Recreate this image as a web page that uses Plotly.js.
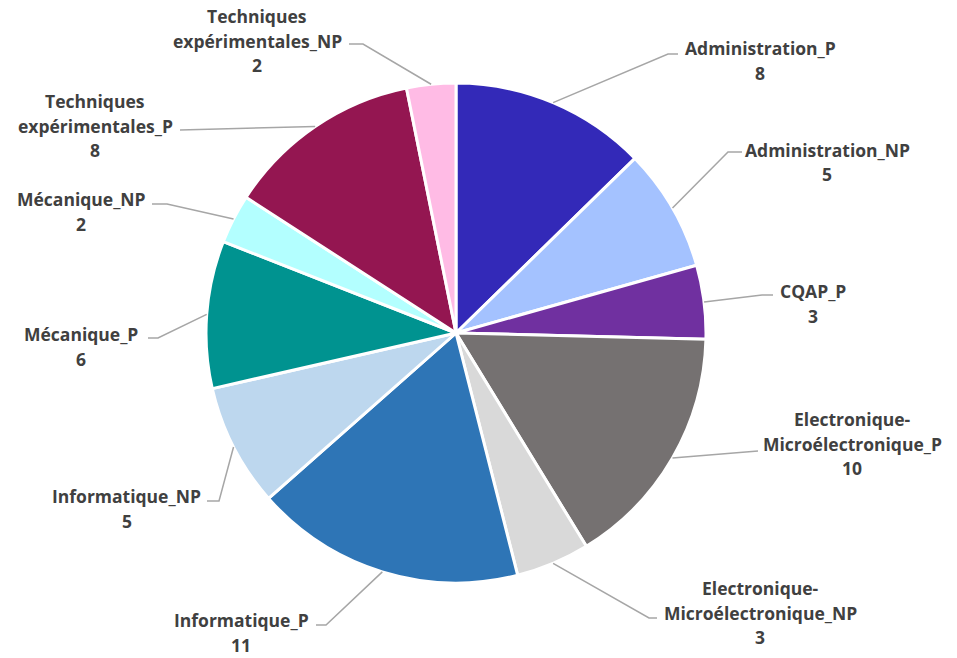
<!DOCTYPE html>
<html>
<head>
<meta charset="utf-8">
<script src="https://cdn.plot.ly/plotly-3.0.1.min.js"></script>
<style>html,body{margin:0;padding:0;background:#fff;}#chart{width:957px;height:658px;}</style>
</head>
<body>
<div id="chart"></div>
<script>
// ---- data ----
const categories = [
  "Administration_P", "Administration_NP", "CQAP_P",
  "Electronique-<br>Microélectronique_P", "Electronique-<br>Microélectronique_NP",
  "Informatique_P", "Informatique_NP", "Mécanique_P", "Mécanique_NP",
  "Techniques<br>expérimentales_P", "Techniques<br>expérimentales_NP"
];
const values = [8, 5, 3, 10, 3, 11, 5, 6, 2, 8, 2];
const colors = ["#3329B8", "#A4C2FF", "#7030A0", "#757171", "#D9D9D9",
                "#2E75B6", "#BDD7EE", "#009390", "#B3FFFF", "#941651", "#FFBBE5"];

// ---- layout (label placement, pixels) ----
const W = 957, H = 658;
const cx = 456, cy = 333, R = 250;
// [elbow x, elbow y, line end x, text center x, first line y]
const labelLayout = [
  [668, 54, 678, 760, 48],
  [728, 152, 742, 827, 150],
  [762, 295, 773, 813, 291],
  [758, 451, 758, 852, 419],
  [649, 618, 657, 760, 588],
  [326, 625, 316, 241, 620],
  [219, 501, 207, 127, 496],
  [158, 338, 148, 81, 334],
  [167, 204, 152, 81, 199],
  [180, 130, 180, 95, 101],
  [363, 44, 349, 257, 16]
];
const lineGap = 24.5;

const px = x => x / W;
const py = y => 1 - y / H;

const total = values.reduce((a, b) => a + b, 0);
const shapes = [];
const annotations = [];
let cum = 0;
values.forEach((v, i) => {
  const mid = (cum + v / 2) / total * 2 * Math.PI;
  cum += v;
  const sx = cx + R * Math.sin(mid);
  const sy = cy - R * Math.cos(mid);
  const L = labelLayout[i];
  shapes.push({
    type: 'path', xref: 'paper', yref: 'paper',
    path: `M ${px(sx)},${py(sy)} L ${px(L[0])},${py(L[1])} L ${px(L[2])},${py(L[1])}`,
    line: {color: '#A6A6A6', width: 1.5}
  });
  const lines = categories[i].split('<br>').concat([String(v)]);
  lines.forEach((t, k) => {
    annotations.push({
      xref: 'paper', yref: 'paper', x: px(L[3]), y: py(L[4] + k * lineGap),
      xanchor: 'center', yanchor: 'middle', showarrow: false, text: t,
      font: {family: 'Open Sans, sans-serif', size: 17.5, color: '#404040', weight: 700}
    });
  });
});

const trace = {
  type: 'pie', labels: categories, values: values, sort: false,
  direction: 'clockwise', rotation: 0, textinfo: 'none', hoverinfo: 'label+value',
  marker: {colors: colors, line: {color: '#FFFFFF', width: 3}},
  domain: {x: [px(cx - R), px(cx + R)], y: [py(cy + R), py(cy - R)]},
  showlegend: false
};

Plotly.newPlot('chart', [trace], {
  width: W, height: H, margin: {l: 0, r: 0, t: 0, b: 0},
  paper_bgcolor: '#FFFFFF', showlegend: false,
  shapes: shapes, annotations: annotations
}, {staticPlot: true});
</script>
</body>
</html>
